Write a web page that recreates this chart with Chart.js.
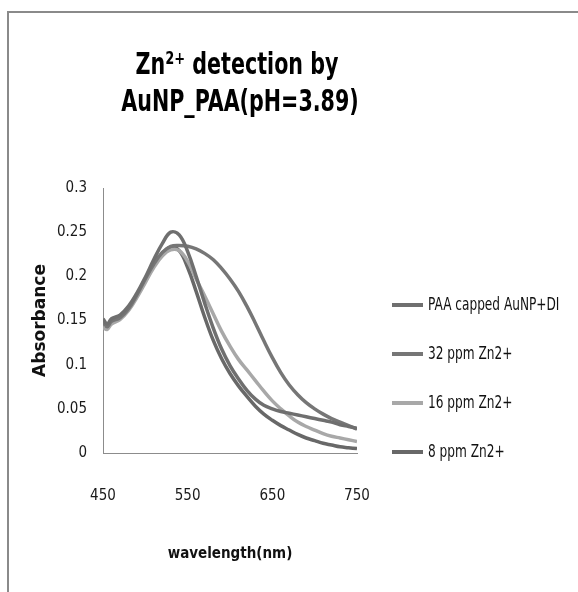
<!DOCTYPE html>
<html>
<head>
<meta charset="utf-8">
<script src="https://cdn.jsdelivr.net/npm/chart.js@4"></script>
<style>
  html, body { margin: 0; padding: 0; background: #fff; }
  #wrap { position: relative; width: 578px; height: 592px; overflow: hidden; }
  #frame {
    position: absolute; left: 7px; top: 11px; width: 700px; height: 700px;
    border-top: 2px solid #8a8a8a; border-left: 2px solid #8a8a8a;
  }
  canvas { position: absolute; left: 0; top: 0; }
</style>
</head>
<body>
<div id="wrap">
  <div id="frame"></div>
  <canvas id="chart" width="578" height="592"></canvas>
</div>
<script>
// wavelength (nm)
const wavelengths = [450, 455, 460, 470, 480, 490, 500, 510, 520, 530, 540, 550, 560, 570, 580, 590,
    600, 610, 620, 630, 640, 650, 660, 670, 680, 690, 700, 710, 720, 730, 740, 750];

// absorbance values
const paaDI = [0.152, 0.146, 0.152, 0.156, 0.166, 0.181, 0.199, 0.219, 0.237, 0.250, 0.247, 0.228, 0.200, 0.170, 0.142, 0.118,
    0.099, 0.084, 0.071, 0.061, 0.054, 0.050, 0.047, 0.045, 0.043, 0.041, 0.039, 0.037, 0.035, 0.032, 0.030, 0.028];
const zn32 = [0.149, 0.143, 0.149, 0.153, 0.163, 0.179, 0.197, 0.214, 0.227, 0.234, 0.235, 0.234, 0.231, 0.226, 0.219, 0.209,
    0.197, 0.183, 0.166, 0.147, 0.127, 0.108, 0.091, 0.077, 0.066, 0.057, 0.050, 0.044, 0.039, 0.035, 0.031, 0.027];
const zn16 = [0.142, 0.140, 0.146, 0.151, 0.161, 0.176, 0.193, 0.210, 0.223, 0.230, 0.229, 0.217, 0.197, 0.178, 0.158, 0.138,
    0.121, 0.106, 0.094, 0.082, 0.070, 0.059, 0.050, 0.042, 0.035, 0.030, 0.026, 0.022, 0.019, 0.017, 0.015, 0.013];
const zn8 = [0.150, 0.144, 0.150, 0.154, 0.163, 0.178, 0.195, 0.212, 0.226, 0.233, 0.229, 0.210, 0.183, 0.154, 0.128, 0.107,
    0.090, 0.076, 0.064, 0.053, 0.044, 0.037, 0.031, 0.026, 0.021, 0.017, 0.014, 0.011, 0.009, 0.007, 0.006, 0.005];

const seriesNames = ["PAA capped AuNP+DI", "32 ppm Zn2+", "16 ppm Zn2+", "8 ppm Zn2+"];
const seriesColors = ["#6f6f6f", "#767676", "#a8a8a8", "#686868"];
const xTicks = [450, 550, 650, 750];
const yTicks = [0, 0.05, 0.1, 0.15, 0.2, 0.25, 0.3];

const titleLines = ["Zn\u00B2\u207A detection by", "AuNP_PAA(pH=3.89)"];

const narrow = "'DejaVu Sans Condensed', 'Liberation Sans Narrow', sans-serif";

const toPoints = (vals) => wavelengths.map((w, i) => ({ x: w, y: vals[i] }));

const allSeries = [paaDI, zn32, zn16, zn8];

// texte compressé horizontalement (police étroite type Calibri)
function squeezeText(ctx, text, x, y, squeeze) {
    ctx.save();
    ctx.translate(x, y);
    ctx.scale(squeeze, 1);
    ctx.fillText(text, 0, 0);
    ctx.restore();
}

// titre et légende dessinés à la main (positions comme dans Excel)
const titleLegendPlugin = {
    id: "titleLegend",
    afterDraw: (chart) => {
        const { ctx, chartArea } = chart;
        ctx.save();
        ctx.fillStyle = "#000";
        ctx.textAlign = "center";
        ctx.textBaseline = "middle";
        ctx.font = "bold 31px " + narrow;
        squeezeText(ctx, titleLines[0], 237, 66, 0.74);
        squeezeText(ctx, titleLines[1], 240, 103, 0.74);

        // légende
        ctx.textAlign = "left";
        ctx.font = "18px " + narrow;
        const x0 = chartArea.right + 35;
        chart.data.datasets.forEach((ds, i) => {
            const y = 305 + i * 49;
            ctx.strokeStyle = ds.borderColor;
            ctx.lineWidth = 4;
            ctx.beginPath();
            ctx.moveTo(x0, y);
            ctx.lineTo(x0 + 31, y);
            ctx.stroke();
            ctx.fillStyle = "#111";
            squeezeText(ctx, ds.label, x0 + 36, y, 0.75);
        });
        ctx.restore();
    },
};

new Chart(document.getElementById("chart"), {
    type: "line",
    data: {
        datasets: allSeries.map((vals, i) => ({
            label: seriesNames[i],
            data: toPoints(vals),
            borderColor: seriesColors[i],
            borderWidth: 3.5,
            pointRadius: 0,
            tension: 0.4,
            fill: false,
        })),
    },
    options: {
        responsive: false,
        animation: false,
        layout: { padding: { left: 30, top: 188, right: 221, bottom: 29 } },
        plugins: {
            legend: { display: false },
            title: { display: false },
            tooltip: { enabled: false },
        },
        scales: {
            x: {
                type: "linear",
                min: 450,
                max: 750,
                afterBuildTicks: (scale) => { scale.ticks = xTicks.map((v) => ({ value: v })); },
                afterFit: (scale) => { scale.height = 110; },
                grid: { display: false, drawTicks: false },
                border: { display: true, color: "#8c8c8c", width: 1 },
                ticks: { color: "#1a1a1a", padding: 34, font: { family: narrow, size: 15 } },
                title: {
                    display: true,
                    text: "wavelength(nm)",
                    color: "#111",
                    padding: 0,
                    font: { family: narrow, size: 15, weight: "bold" },
                },
            },
            y: {
                min: 0,
                max: 0.3,
                afterBuildTicks: (scale) => { scale.ticks = yTicks.map((v) => ({ value: v })); },
                afterFit: (scale) => { scale.width = 73; },
                grid: { display: false, drawTicks: false },
                border: { display: true, color: "#8c8c8c", width: 1 },
                ticks: {
                    color: "#1a1a1a",
                    padding: 16,
                    font: { family: narrow, size: 15 },
                    callback: (v) => String(+v.toFixed(2)),
                },
                title: {
                    display: true,
                    text: "Absorbance",
                    color: "#111",
                    padding: 0,
                    font: { family: "'DejaVu Sans', sans-serif", size: 17, weight: "bold" },
                },
            },
        },
    },
    plugins: [titleLegendPlugin],
});
</script>
</body>
</html>
